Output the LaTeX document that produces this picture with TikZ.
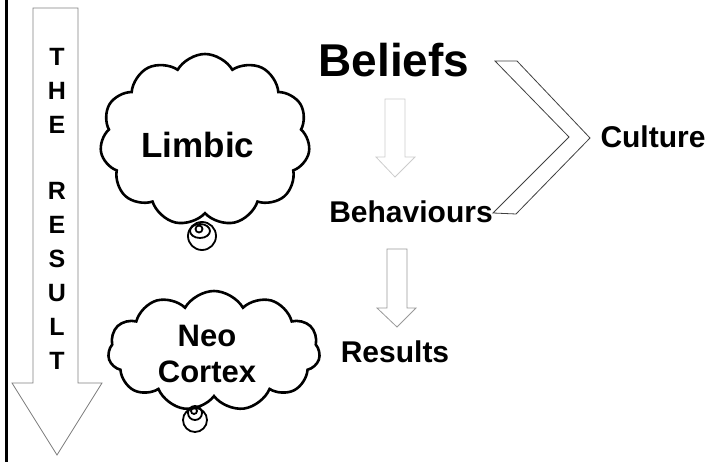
\documentclass[tikz,border=0pt]{standalone}
\usepackage{fontspec}
\setmainfont{Liberation Sans}
\usetikzlibrary{positioning,shapes.symbols}

\begin{document}
\begin{tikzpicture}[
    x=1pt, y=-1pt,
    every node/.style={font=\bfseries, inner sep=0pt},
    lbl/.style={anchor=base, font=\fontsize{30}{30}\selectfont\bfseries},
    letter/.style={anchor=base, font=\fontsize{25}{25}\selectfont\bfseries},
    thought/.style={draw, cloud, cloud puffs=11, cloud puff arc=120, cloud ignores aspect, line width=2.6pt, align=center},
    blk/.style={draw=gray, line width=0.8pt, line join=miter},
    bubble/.style={draw, line width=1.8pt}
]
\useasboundingbox (0,0) rectangle (713,462);

% side rule
\draw[line width=3pt] (6,0) -- (6,462);

% big arrow and its letters
\draw[blk] (33,8) -- (78,8) -- (78,383) -- (102,383) -- (57,455) -- (12,383) -- (33,383) -- cycle;
\foreach \ch/\yy [count=\i] in {T/66, H/100, E/134, R/200, E/234, S/268, U/302, L/336, T/370}
  \node[letter] (ch\i) at (57,\yy) {\ch};

% clouds
\node[thought, minimum width=210pt, minimum height=172pt] (limbic) at (205,140) {};
\node[anchor=base, font=\fontsize{35}{35}\selectfont\bfseries] (limbicTxt) at (198,158) {Limbic};
\node[thought, minimum width=212pt, minimum height=120pt] (neo) at (214,351) {};
\node[anchor=base, font=\fontsize{31}{31}\selectfont\bfseries] (neoTxt) at (207,347) {Neo};
\node[anchor=base, font=\fontsize{31}{31}\selectfont\bfseries] (cortexTxt) at (207,383) {Cortex};

% thought bubbles
\draw[bubble] (202,236) circle (14);
\draw[bubble] (200,231) ellipse (10 and 7);
\draw[bubble] (199,229) circle (3.5);
\draw[bubble] (195,420) circle (12);
\draw[bubble] (195,413) circle (7);
\draw[bubble] (194,411) circle (3);

% chain
\node[anchor=base, font=\fontsize{46}{46}\selectfont\bfseries] (beliefs) at (394,77) {Beliefs};
\node[lbl] (behav) at (411,223) {Behaviours};
\node[lbl] (results) at (395,363) {Results};
\node[lbl] (culture) at (653,148) {Culture};

\draw[blk, draw=gray!40] (385,99) -- (405,99) -- (405,157) -- (415,157) -- (395,177) -- (376,157) -- (385,157) -- cycle;
\draw[blk, draw=gray!80] (387,249) -- (407,249) -- (407,308) -- (416,308) -- (397,327) -- (377,308) -- (387,308) -- cycle;

% bracket towards culture
\draw[blk, draw=black!75] (495,61) -- (517,61) -- (590,138) -- (516,214) -- (493,213) -- (569,137) -- cycle;
\end{tikzpicture}
\end{document}
